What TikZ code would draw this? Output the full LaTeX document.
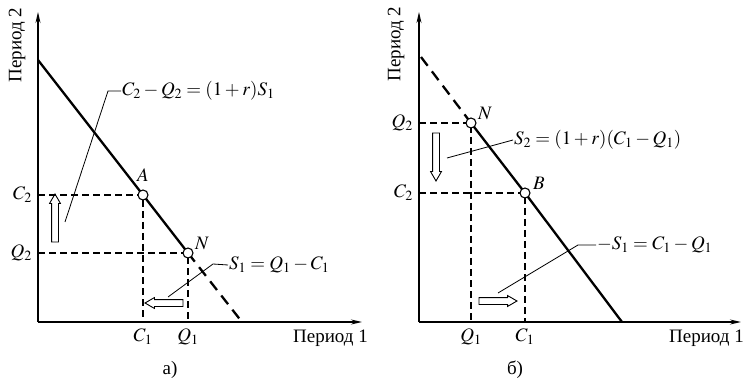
\documentclass[tikz,border=0pt]{standalone}
\usepackage{mathptmx}
\usepackage{fontspec}
\setmainfont{Liberation Serif}
\usetikzlibrary{arrows.meta, shapes.arrows, positioning}

\begin{document}
\begin{tikzpicture}[x=1pt, y=-1pt,
  axis/.style={line width=1.4pt, -{Stealth[length=11pt, width=5pt]}},
  budget/.style={line width=2.3pt},
  guide/.style={line width=1.1pt, dash pattern=on 7pt off 4pt},
  spot/.style={circle, draw, fill=white, line width=1.1pt, inner sep=0pt, minimum size=10pt},
  lbl/.style={font=\fontsize{19}{22}\selectfont, inner sep=1pt},
  leader/.style={line width=0.8pt},
  hollow/.style={single arrow, draw, line width=0.9pt, inner sep=3pt,
                 single arrow head extend=2pt, single arrow tip angle=60}
]
  \useasboundingbox (0,0) rectangle (747,382);

  % ── а) ──
  \coordinate (Oa) at (38,322);
  \coordinate (ya) at (38,12);
  \coordinate (xa) at (362,322);
  \coordinate (Ta) at (38,60);
  \coordinate (A)  at (143,195);
  \coordinate (Na) at (188,253);
  \coordinate (Ea) at (242,322);
  \draw[axis] (Oa) -- (ya);
  \draw[axis] (Oa) -- (xa);
  \draw[guide] (Oa |- A) -- (A) -- (A |- Oa);
  \draw[guide] (Oa |- Na) -- (Na) -- (Na |- Oa);
  \draw[budget] (Ta) -- (A) -- (Na);
  \draw[budget, dash pattern=on 11pt off 7pt] (Na) -- (Ea);
  \node[spot] (A') at (A) {};
  \node[spot] (Na') at (Na) {};
  \node[lbl, above=12pt] (alA) at (A) {$A$};
  \node[lbl, above right=2pt and 6pt] (alN) at (Na) {$N$};
  \node[lbl, left=5pt] (c2a) at (Oa |- A) {$C_2$};
  \node[lbl, left=5pt] (q2a) at (Oa |- Na) {$Q_2$};
  \node[lbl, below=6pt] (c1a) at (A |- Oa) {$C_1$};
  \node[lbl, below=6pt] (q1a) at (Na |- Oa) {$Q_1$};
  \node[lbl, anchor=north east] (p1a) at (369,329) {Период 1};
  \node[lbl, rotate=90] (p2a) at (17,45) {Период 2};
  \node[lbl] (capa) at (170,370) {а)};
  \node[lbl, anchor=west] (eqa) at (121,91) {$C_2 - Q_2 = (1 + r)S_1$};
  \node[lbl, anchor=west] (eqb) at (228,265) {$S_1 = Q_1 - C_1$};
  \coordinate (la) at (65,222);
  \coordinate (lb) at (168,297);
  \draw[leader] (la) -- (108,91) -- (eqa.west);
  \draw[leader] (lb) -- (213,264) -- (eqb.west);
  \node[hollow, minimum height=48pt, rotate=90] (upa) at (55,221) {};
  \node[hollow, minimum height=38pt, rotate=180] (lfa) at (167,303) {};

  % ── б) ──
  \coordinate (Ob) at (419,322);
  \coordinate (yb) at (419,12);
  \coordinate (xb) at (741,322);
  \coordinate (Tb) at (421,57);
  \coordinate (Nb) at (471,123);
  \coordinate (B)  at (525,193);
  \coordinate (Eb) at (622,322);
  \draw[axis] (Ob) -- (yb);
  \draw[axis] (Ob) -- (xb);
  \draw[guide] (Ob |- Nb) -- (Nb) -- (Nb |- Ob);
  \draw[guide] (Ob |- B) -- (B) -- (B |- Ob);
  \draw[budget, dash pattern=on 11pt off 7pt] (Tb) -- (Nb);
  \draw[budget] (Nb) -- (B) -- (Eb);
  \node[spot] (Nb') at (Nb) {};
  \node[spot] (B') at (B) {};
  \node[lbl, above right=2pt and 6pt] (blN) at (Nb) {$N$};
  \node[lbl, above right=2pt and 7pt] (blB) at (B) {$B$};
  \node[lbl, left=5pt] (q2b) at (Ob |- Nb) {$Q_2$};
  \node[lbl, left=5pt] (c2b) at (Ob |- B) {$C_2$};
  \node[lbl, below=6pt] (q1b) at (Nb |- Ob) {$Q_1$};
  \node[lbl, below=6pt] (c1b) at (B |- Ob) {$C_1$};
  \node[lbl, anchor=north east] (p1b) at (745,329) {Период 1};
  \node[lbl, rotate=90] (p2b) at (396,44) {Период 2};
  \node[lbl] (capb) at (515,370) {б)};
  \node[lbl, anchor=west] (eqc) at (513,140) {$S_2 = (1 + r)(C_1 - Q_1)$};
  \node[lbl, anchor=west] (eqd) at (596,245) {$-S_1 = C_1 - Q_1$};
  \coordinate (lc) at (447,158);
  \coordinate (ld) at (498,293);
  \draw[leader] (lc) -- (eqc.west);
  \draw[leader] (ld) -- (578,245) -- (eqd.west);
  \node[hollow, minimum height=48pt, rotate=270] (dnb) at (436,154) {};
  \node[hollow, minimum height=38pt] (rtb) at (495,301) {};
\end{tikzpicture}
\end{document}
